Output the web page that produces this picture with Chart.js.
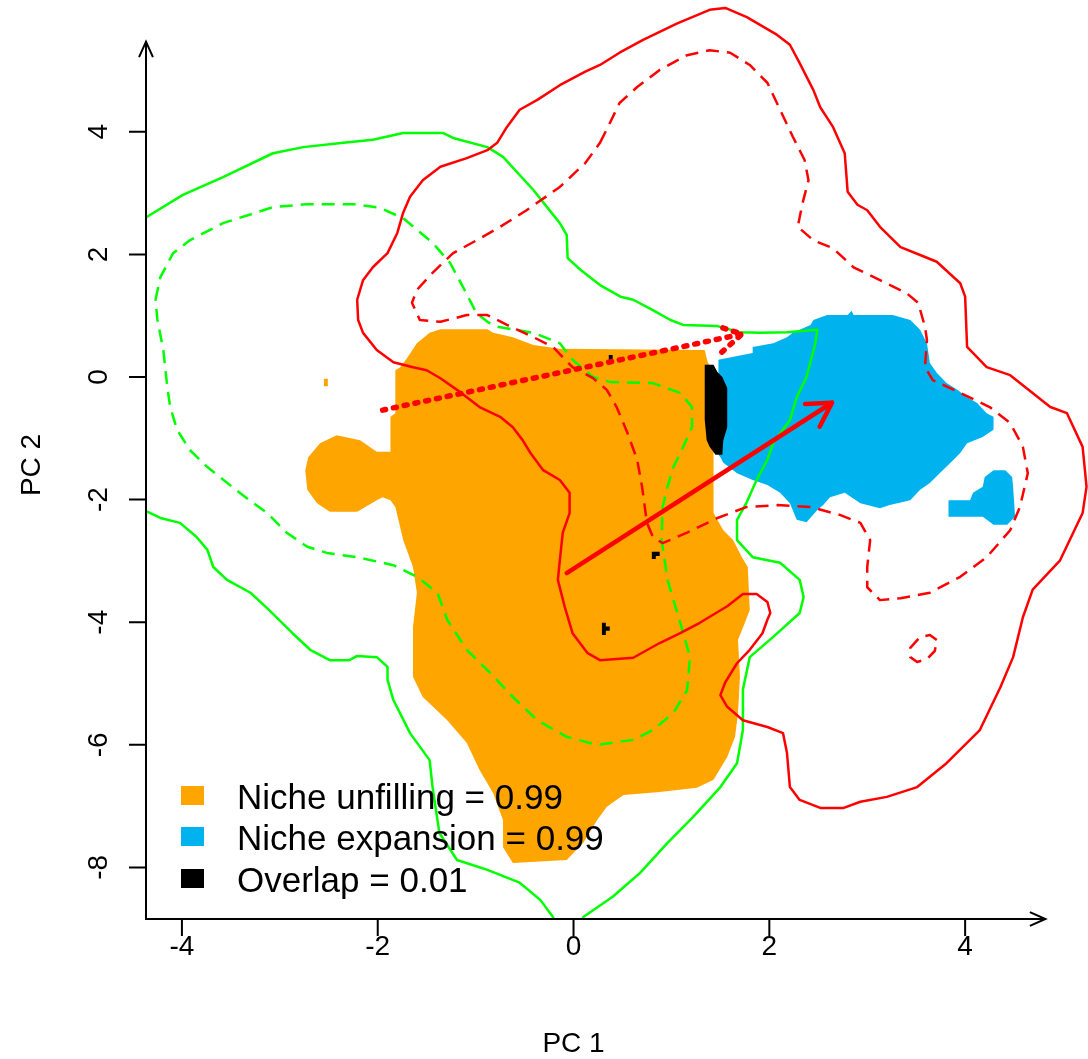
<!DOCTYPE html>
<html>
<head>
<meta charset="utf-8">
<script src="https://cdn.jsdelivr.net/npm/chart.js@4.4.1/dist/chart.umd.min.js"></script>
<style>
  html, body { margin: 0; padding: 0; background: #ffffff; }
</style>
</head>
<body>
<canvas id="nicheChart" width="1088" height="1059"></canvas>
<script>
// axes
var xTicks = [-4, -2, 0, 2, 4];
var yTicks = [-8, -6, -4, -2, 0, 2, 4];
var xTitle = 'PC 1';
var yTitle = 'PC 2';
var xAxisEnd = 4.82;   // where the arrow of the x axis stops
var yAxisEnd = 5.47;

// legend
var legendLabels = ['Niche unfilling = 0.99', 'Niche expansion = 0.99', 'Overlap = 0.01'];
var legendColors = ['#FFA500', '#00B2EE', '#000000'];

// niche categories (PC1, PC2)
var unfillingArea = [
  [-1.77, 0.16], [-1.70, 0.31], [-1.60, 0.55], [-1.47, 0.72], [-1.36, 0.78], [-0.88, 0.78],
  [-0.82, 0.72], [-0.62, 0.65], [-0.41, 0.52], [-0.14, 0.46], [1.34, 0.44], [1.37, 0.24],
  [1.43, 0.11], [1.43, -2.22], [1.53, -2.50], [1.63, -2.66], [1.72, -2.94], [1.78, -3.10],
  [1.80, -3.80], [1.75, -4.01], [1.68, -4.29], [1.70, -4.89], [1.68, -5.48], [1.65, -5.87],
  [1.57, -6.20], [1.43, -6.57], [1.26, -6.70], [0.88, -6.77], [0.51, -6.82], [0.34, -7.01],
  [0.24, -7.23], [0.10, -7.60], [-0.07, -7.88], [-0.62, -7.93], [-0.72, -7.67], [-0.72, -7.23],
  [-0.82, -6.79], [-0.96, -6.41], [-1.09, -5.97], [-1.29, -5.60], [-1.54, -5.22], [-1.64, -4.89],
  [-1.64, -4.08], [-1.60, -3.52], [-1.64, -3.10], [-1.74, -2.66], [-1.82, -2.12], [-1.87, -2.01],
  [-1.95, -1.96], [-2.01, -2.01], [-2.21, -2.20], [-2.49, -2.20], [-2.62, -2.06], [-2.72, -1.84],
  [-2.74, -1.52], [-2.71, -1.31], [-2.59, -1.08], [-2.42, -0.95], [-2.18, -1.03], [-2.01, -1.22],
  [-1.87, -1.22], [-1.87, -0.65], [-1.82, -0.59], [-1.82, 0.11]
];
var unfillingSpeck = [[-2.55, -0.03], [-2.51, -0.03], [-2.51, -0.15], [-2.55, -0.15]];

var expansionArea = [
  [1.48, 0.28], [1.48, -1.27], [1.50, -1.31], [1.53, -1.40], [1.67, -1.57], [1.83, -1.68],
  [1.98, -1.76], [2.11, -1.89], [2.21, -2.06], [2.28, -2.33], [2.38, -2.37], [2.49, -2.17],
  [2.55, -2.09], [2.62, -1.96], [2.77, -1.89], [2.93, -2.06], [3.13, -2.14], [3.23, -2.09],
  [3.44, -2.01], [3.54, -1.84], [3.64, -1.73], [3.74, -1.57], [3.85, -1.40], [3.95, -1.24],
  [4.02, -1.08], [4.18, -0.98], [4.29, -0.86], [4.29, -0.65], [4.22, -0.59], [4.12, -0.42],
  [4.02, -0.33], [3.92, -0.21], [3.81, -0.10], [3.71, 0.07], [3.64, 0.23], [3.61, 0.55],
  [3.54, 0.77], [3.44, 0.93], [3.26, 1.01], [2.86, 1.01], [2.84, 1.08], [2.80, 1.01],
  [2.59, 1.01], [2.45, 0.93], [2.42, 0.85], [2.24, 0.72], [2.18, 0.65], [2.04, 0.55],
  [1.83, 0.49], [1.83, 0.39], [1.57, 0.31]
];
var expansionBlob = [
  [3.83, -2.01], [4.05, -2.01], [4.08, -1.89], [4.18, -1.79], [4.20, -1.63], [4.29, -1.52],
  [4.41, -1.52], [4.48, -1.63], [4.49, -1.79], [4.51, -2.28], [4.43, -2.41], [4.29, -2.41],
  [4.18, -2.28], [3.83, -2.28]
];

var overlapArea = [
  [1.34, 0.20], [1.43, 0.20], [1.47, 0.08], [1.52, 0.00], [1.57, -0.18], [1.57, -0.82],
  [1.53, -1.03], [1.52, -1.27], [1.45, -1.27], [1.39, -1.14], [1.36, -1.03], [1.34, -0.70]
];
var overlapSpeckA = [[0.36, 0.36], [0.40, 0.36], [0.40, 0.24], [0.36, 0.24]];
var overlapSpeckB = [[0.80, -2.85], [0.88, -2.85], [0.88, -2.92], [0.84, -2.92], [0.84, -2.97], [0.80, -2.97]];
var overlapSpeckC = [[0.29, -4.01], [0.33, -4.01], [0.33, -4.07], [0.37, -4.07], [0.37, -4.14], [0.33, -4.14], [0.33, -4.21], [0.29, -4.21]];

// environment contours: native (green) and invaded (red), solid = 100 %, dashed = quantile
var nativeEnvSolid = [
  [-4.53, -2.20], [-4.35, -2.20], [-4.22, -2.30], [-4.02, -2.38], [-3.85, -2.61], [-3.74, -2.82],
  [-3.68, -3.10], [-3.54, -3.31], [-3.30, -3.52], [-3.13, -3.77], [-2.87, -4.18], [-2.69, -4.45],
  [-2.49, -4.62], [-2.29, -4.62], [-2.21, -4.55], [-2.01, -4.57], [-1.90, -4.73], [-1.90, -4.94],
  [-1.84, -5.27], [-1.67, -5.81], [-1.47, -6.25], [-1.44, -6.69], [-1.37, -7.44], [-1.19, -7.88],
  [-0.88, -8.04], [-0.55, -8.25], [-0.34, -8.53], [-0.21, -8.81], [-0.14, -9.10], [0.05, -9.10],
  [0.10, -8.81], [0.40, -8.48], [0.68, -8.09], [0.96, -7.60], [1.22, -7.18], [1.50, -6.69],
  [1.67, -6.30], [1.73, -5.76], [1.73, -5.10], [1.80, -4.57], [2.04, -4.24], [2.31, -3.85],
  [2.35, -3.59], [2.31, -3.31], [2.11, -3.03], [1.83, -2.94], [1.67, -2.66], [1.67, -2.33],
  [1.77, -2.04], [1.87, -1.68], [1.98, -1.35], [2.04, -1.08], [2.21, -0.70], [2.28, -0.33],
  [2.38, 0.00], [2.47, 0.55], [2.49, 0.77], [2.18, 0.73], [1.91, 0.72], [1.70, 0.73],
  [1.47, 0.83], [1.12, 0.85], [0.99, 0.93], [0.81, 1.09], [0.61, 1.26], [0.48, 1.31],
  [0.27, 1.50], [0.07, 1.75], [-0.06, 1.94], [-0.07, 2.32], [-0.14, 2.51], [-0.41, 3.05],
  [-0.72, 3.59], [-0.88, 3.75], [-1.23, 3.90], [-1.33, 3.98], [-1.74, 3.98], [-2.05, 3.87],
  [-2.35, 3.82], [-2.76, 3.75], [-3.07, 3.65], [-3.58, 3.26], [-3.99, 2.97], [-4.36, 2.61],
  [-4.53, 2.48]
];
var nativeEnvDashed = [
  [-4.27, 1.26], [-4.22, 1.63], [-4.09, 2.02], [-3.92, 2.23], [-3.58, 2.51], [-3.07, 2.77],
  [-2.72, 2.82], [-2.25, 2.82], [-1.98, 2.76], [-1.74, 2.59], [-1.44, 2.19], [-1.26, 1.86],
  [-1.13, 1.47], [-0.99, 1.04], [-0.88, 0.90], [-0.78, 0.82], [-0.41, 0.72], [-0.14, 0.55],
  [-0.01, 0.28], [0.20, 0.00], [0.37, -0.08], [0.81, -0.10], [1.09, -0.26], [1.21, -0.49],
  [1.21, -0.82], [1.12, -1.14], [1.02, -1.47], [0.96, -1.79], [0.91, -2.12], [0.90, -2.66],
  [0.96, -3.31], [1.09, -4.01], [1.19, -4.57], [1.16, -5.11], [1.02, -5.48], [0.81, -5.76],
  [0.61, -5.92], [0.24, -6.00], [-0.07, -5.87], [-0.37, -5.60], [-0.62, -5.22], [-0.85, -4.83],
  [-1.09, -4.45], [-1.29, -3.96], [-1.39, -3.52], [-1.60, -3.26], [-1.84, -3.07], [-2.21, -2.94],
  [-2.52, -2.87], [-2.72, -2.77], [-2.93, -2.54], [-3.13, -2.22], [-3.41, -1.89], [-3.74, -1.47],
  [-3.92, -1.19], [-4.05, -0.86], [-4.12, -0.49], [-4.15, -0.16], [-4.19, 0.44], [-4.25, 0.93]
];
var invadedEnvSolid = [
  [-2.21, 1.26], [-2.15, 1.58], [-2.05, 1.79], [-1.90, 2.02], [-1.80, 2.35], [-1.74, 2.68],
  [-1.67, 2.94], [-1.54, 3.21], [-1.36, 3.43], [-1.09, 3.57], [-0.88, 3.70], [-0.78, 3.82],
  [-0.68, 4.08], [-0.55, 4.36], [-0.37, 4.52], [-0.14, 4.76], [0.12, 4.98], [0.27, 5.09],
  [0.47, 5.29], [0.71, 5.50], [1.06, 5.77], [1.39, 5.99], [1.55, 6.02], [1.77, 5.87],
  [2.08, 5.58], [2.21, 5.42], [2.31, 5.12], [2.45, 4.68], [2.52, 4.40], [2.65, 4.08],
  [2.77, 3.65], [2.80, 3.02], [2.90, 2.81], [3.00, 2.72], [3.13, 2.45], [3.34, 2.12],
  [3.54, 1.99], [3.71, 1.88], [3.95, 1.53], [4.00, 1.31], [4.02, 0.49], [4.22, 0.16],
  [4.46, 0.03], [4.87, -0.49], [5.04, -0.59], [5.20, -1.14], [5.24, -1.79], [5.20, -2.22],
  [4.97, -2.99], [4.69, -3.47], [4.59, -3.92], [4.49, -4.57], [4.36, -5.06], [4.15, -5.76],
  [3.81, -6.30], [3.51, -6.69], [3.20, -6.85], [2.93, -6.93], [2.76, -7.03], [2.52, -7.03],
  [2.31, -6.90], [2.21, -6.69], [2.18, -6.13], [2.14, -5.81], [1.98, -5.71], [1.73, -5.60],
  [1.57, -5.38], [1.50, -5.19], [1.55, -4.98], [1.67, -4.67], [1.80, -4.45], [1.93, -4.18],
  [1.98, -3.96], [2.01, -3.85], [1.98, -3.67], [1.87, -3.54], [1.73, -3.54], [1.57, -3.74],
  [1.29, -4.01], [1.09, -4.18], [0.88, -4.34], [0.61, -4.58], [0.27, -4.62], [0.14, -4.50],
  [-0.01, -4.18], [-0.09, -3.75], [-0.16, -3.31], [-0.14, -2.99], [-0.11, -2.54], [-0.04, -2.22],
  [-0.04, -1.89], [-0.14, -1.68], [-0.31, -1.52], [-0.44, -1.24], [-0.52, -1.03], [-0.62, -0.82],
  [-0.75, -0.65], [-0.96, -0.49], [-1.19, -0.21], [-1.36, -0.02], [-1.50, 0.11], [-1.64, 0.16],
  [-1.84, 0.24], [-2.01, 0.44], [-2.15, 0.72], [-2.20, 0.93]
];
var invadedEnvDashed = [
  [0.27, 3.82], [0.37, 4.14], [0.47, 4.47], [0.65, 4.73], [0.88, 5.01], [1.16, 5.25],
  [1.39, 5.33], [1.60, 5.29], [1.80, 5.09], [1.98, 4.80], [2.11, 4.36], [2.24, 3.92],
  [2.36, 3.54], [2.40, 3.21], [2.34, 2.84], [2.29, 2.45], [2.45, 2.23], [2.65, 2.10],
  [2.86, 1.79], [3.13, 1.58], [3.40, 1.37], [3.52, 1.21], [3.59, 0.82], [3.61, 0.60],
  [3.59, 0.16], [3.67, -0.05], [3.95, -0.26], [4.25, -0.49], [4.46, -0.75], [4.59, -1.14],
  [4.64, -1.57], [4.56, -2.12], [4.46, -2.50], [4.22, -2.94], [3.95, -3.26], [3.64, -3.52],
  [3.34, -3.61], [3.13, -3.64], [3.00, -3.43], [3.00, -3.10], [3.03, -2.66], [2.93, -2.38],
  [2.72, -2.25], [2.42, -2.12], [2.08, -2.09], [1.77, -2.12], [1.47, -2.30], [1.16, -2.54],
  [0.91, -2.71], [0.81, -2.61], [0.75, -2.38], [0.70, -1.79], [0.65, -1.35], [0.55, -0.91],
  [0.44, -0.49], [0.34, -0.21], [0.20, -0.02], [-0.01, 0.16], [-0.21, 0.49], [-0.41, 0.65],
  [-0.68, 0.85], [-0.88, 1.01], [-1.09, 1.01], [-1.36, 0.90], [-1.57, 0.93], [-1.65, 1.21],
  [-1.60, 1.42], [-1.44, 1.70], [-1.23, 2.02], [-0.99, 2.23], [-0.75, 2.45], [-0.48, 2.72],
  [-0.14, 3.10], [0.12, 3.49]
];
var invadedEnvIsland = [
  [3.71, -4.29], [3.64, -4.21], [3.54, -4.24], [3.44, -4.42], [3.44, -4.57], [3.51, -4.65],
  [3.61, -4.60], [3.69, -4.47]
];

// centroid shifts: species (solid) and environment (dotted)
var nicheShift = [[-0.07, -3.20], [2.64, -0.42]];
var envShift = [[-1.95, -0.54], [1.72, 0.70]];

function toXY(points, closed) {
  var out = points.map(function (p) { return { x: p[0], y: p[1] }; });
  if (closed) out.push({ x: points[0][0], y: points[0][1] });
  return out;
}
function area(points, color) {
  return { data: toXY(points, true), fill: 'shape', backgroundColor: color,
           borderWidth: 0, pointRadius: 0 };
}
function contour(points, color, dashed, closed) {
  return { data: toXY(points, closed), fill: false, borderColor: color, borderWidth: 2.5,
           borderDash: dashed ? [13, 8] : [], borderCapStyle: 'butt',
           borderJoinStyle: 'round', pointRadius: 0 };
}
function arrow(points, width, dash) {
  return { data: toXY(points, false), fill: false, borderColor: '#FF0000', borderWidth: width,
           borderDash: dash, borderCapStyle: 'round', pointRadius: 0, arrowHead: 27 };
}

var datasets = [
  area(unfillingArea, legendColors[0]),
  area(unfillingSpeck, legendColors[0]),
  area(expansionArea, legendColors[1]),
  area(expansionBlob, legendColors[1]),
  area(overlapArea, legendColors[2]),
  area(overlapSpeckA, legendColors[2]),
  area(overlapSpeckB, legendColors[2]),
  area(overlapSpeckC, legendColors[2]),
  contour(nativeEnvSolid, '#00FF00', false, false),
  contour(nativeEnvDashed, '#00FF00', true, true),
  contour(invadedEnvSolid, '#FF0000', false, true),
  contour(invadedEnvDashed, '#FF0000', true, true),
  contour(invadedEnvIsland, '#FF0000', true, true),
  arrow(nicheShift, 4.5, []),
  arrow(envShift, 5.5, [3, 8])
];
// first listed is drawn first
datasets.forEach(function (d, i) { d.order = datasets.length - i; });

var FONT = '"Liberation Sans", Arial, sans-serif';

var arrowHeads = {
  id: 'arrowHeads',
  afterDatasetsDraw: function (chart) {
    var ctx = chart.ctx;
    chart.data.datasets.forEach(function (ds, i) {
      if (!ds.arrowHead) return;
      var pts = chart.getDatasetMeta(i).data;
      var a = pts[0], b = pts[pts.length - 1];
      var ang = Math.atan2(b.y - a.y, b.x - a.x);
      var L = ds.arrowHead, spread = Math.PI / 6;
      ctx.save();
      ctx.strokeStyle = ds.borderColor;
      ctx.lineWidth = ds.borderWidth;
      ctx.lineCap = 'round';
      ctx.lineJoin = 'round';
      ctx.setLineDash(ds.borderDash);
      ctx.beginPath();
      ctx.moveTo(b.x - L * Math.cos(ang - spread), b.y - L * Math.sin(ang - spread));
      ctx.lineTo(b.x, b.y);
      ctx.lineTo(b.x - L * Math.cos(ang + spread), b.y - L * Math.sin(ang + spread));
      ctx.stroke();
      ctx.restore();
    });
  }
};

var rAxes = {
  id: 'rAxes',
  afterDraw: function (chart) {
    var ctx = chart.ctx, xs = chart.scales.x, ys = chart.scales.y, ca = chart.chartArea;
    var x0 = ca.left, y0 = ca.bottom;
    var xEnd = xs.getPixelForValue(xAxisEnd), yEnd = ys.getPixelForValue(yAxisEnd);
    var tick = 17, head = 17, hs = 0.42;
    ctx.save();
    ctx.strokeStyle = '#000';
    ctx.lineWidth = 2;
    ctx.setLineDash([]);
    ctx.lineCap = 'butt';
    ctx.beginPath();
    ctx.moveTo(xEnd, y0); ctx.lineTo(x0, y0); ctx.lineTo(x0, yEnd);
    xTicks.forEach(function (v) {
      var px = xs.getPixelForValue(v);
      ctx.moveTo(px, y0); ctx.lineTo(px, y0 + tick);
    });
    yTicks.forEach(function (v) {
      var py = ys.getPixelForValue(v);
      ctx.moveTo(x0, py); ctx.lineTo(x0 - tick, py);
    });
    ctx.stroke();
    // arrow heads of the axes
    ctx.beginPath();
    ctx.moveTo(xEnd - head * Math.cos(hs), y0 - head * Math.sin(hs));
    ctx.lineTo(xEnd, y0);
    ctx.lineTo(xEnd - head * Math.cos(hs), y0 + head * Math.sin(hs));
    ctx.moveTo(x0 - head * Math.sin(hs), yEnd + head * Math.cos(hs));
    ctx.lineTo(x0, yEnd);
    ctx.lineTo(x0 + head * Math.sin(hs), yEnd + head * Math.cos(hs));
    ctx.stroke();

    ctx.fillStyle = '#000';
    ctx.font = '28px ' + FONT;
    ctx.textAlign = 'center';
    ctx.textBaseline = 'alphabetic';
    xTicks.forEach(function (v) {
      ctx.fillText(String(v).replace('-', '-'), xs.getPixelForValue(v), y0 + 36);
    });
    yTicks.forEach(function (v) {
      ctx.save();
      ctx.translate(x0 - 39, ys.getPixelForValue(v));
      ctx.rotate(-Math.PI / 2);
      ctx.fillText(String(v), 0, 0);
      ctx.restore();
    });
    ctx.fillText(xTitle, xs.getPixelForValue(0), y0 + 133);
    ctx.save();
    ctx.translate(40, ca.top + 465);
    ctx.rotate(-Math.PI / 2);
    ctx.fillText(yTitle, 0, 0);
    ctx.restore();

    // legend
    var lx = x0 + 35, rows = [796, 837, 879];
    ctx.font = '35px ' + FONT;
    ctx.textAlign = 'left';
    legendLabels.forEach(function (lab, i) {
      ctx.fillStyle = legendColors[i];
      ctx.fillRect(lx, rows[i] - 10, 23, 19);
      ctx.fillStyle = '#000';
      ctx.fillText(lab, lx + 56, rows[i] + 12.5);
    });
    ctx.restore();
  }
};

new Chart(document.getElementById('nicheChart').getContext('2d'), {
  type: 'line',
  data: { datasets: datasets },
  options: {
    responsive: false,
    animation: false,
    events: [],
    layout: { padding: { left: 146, right: 0, top: 0, bottom: 140 } },
    scales: {
      x: { type: 'linear', min: -4.367, max: 5.255, display: false },
      y: { type: 'linear', min: -8.842, max: 6.150, display: false }
    },
    plugins: {
      legend: { display: false },
      tooltip: { enabled: false }
    }
  },
  plugins: [arrowHeads, rAxes]
});
</script>
</body>
</html>
